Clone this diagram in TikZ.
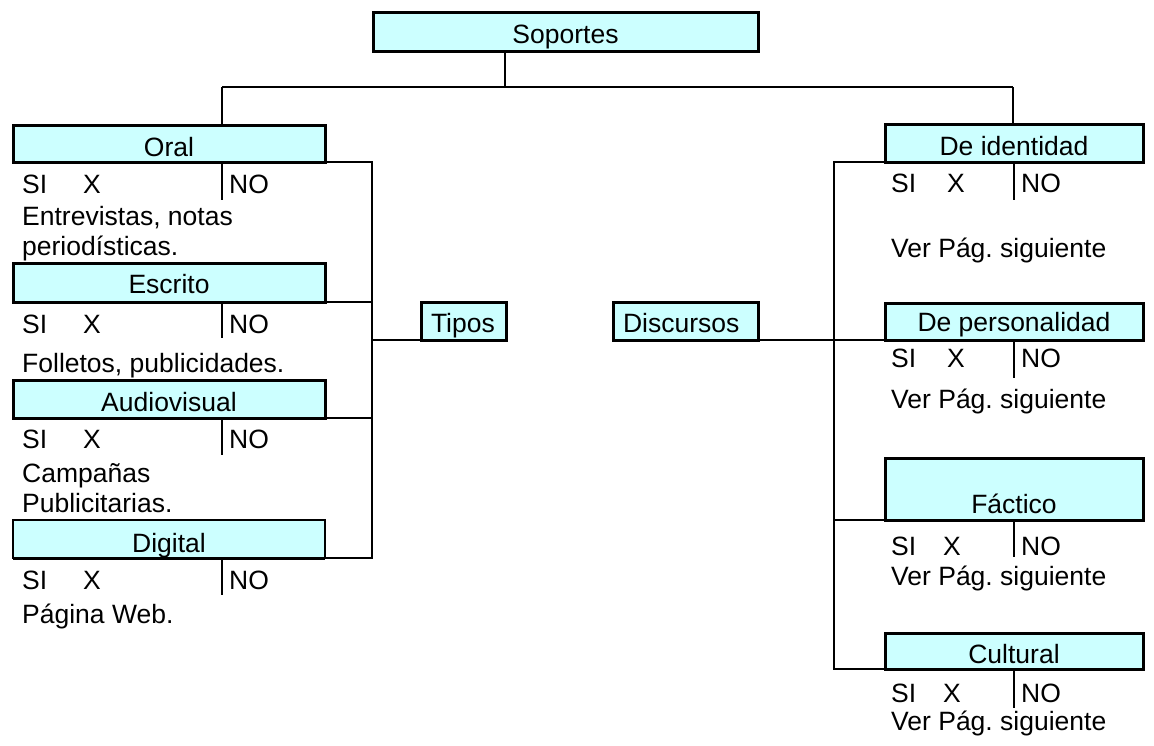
\documentclass[tikz,border=0pt]{standalone}
\usepackage{fontspec}
\setmainfont{Liberation Sans}
\frenchspacing
\definecolor{boxcyan}{HTML}{CCFFFF}
\begin{document}
\begin{tikzpicture}[x=1pt,y=-1pt,
  txtfont/.style={font=\fontsize{26.5pt}{31pt}\selectfont},
  lbl/.style={txtfont, inner sep=0pt, anchor=base west},
  bx/.style={txtfont, draw, line width=3pt, fill=boxcyan, inner sep=0pt, outer sep=0pt},
  conn/.style={line width=2.2pt},
  divider/.style={line width=1.8pt}]
\useasboundingbox (0,0) rectangle (1154,745);

% ---- boxes ----
\node[bx, minimum width=385pt, text height=31pt, text depth=8pt] (sop) at (565.5,31.5) {Soportes};

\node[bx, minimum width=312pt, text height=31pt, text depth=6pt] (oral)  at (169,143.5) {Oral};
\node[bx, minimum width=312pt, text height=30pt, text depth=9pt] (escr)  at (169,282.5) {Escrito};
\node[bx, minimum width=312pt, text height=31pt, text depth=7pt] (audio) at (169,399)   {Audiovisual};
\node[bx, line width=1.2pt, minimum width=312pt, text height=32pt, text depth=6pt] (dig) at (169,539) {Digital};
\draw[line width=3pt] (dig.south west) -- (dig.south east);

\node[bx, inner xsep=10pt, text height=30pt, text depth=8pt] (tipos) at (463.5,321) {\makebox[65pt][l]{Tipos}};
\node[bx, inner xsep=10pt, text height=30pt, text depth=8pt] (disc)  at (685.5,321) {\makebox[125pt][l]{Discursos}};

\node[bx, minimum width=258pt, text height=31pt, text depth=7pt] (ident) at (1014,143)   {De identidad};
\node[bx, minimum width=258pt, text height=28pt, text depth=9pt] (pers)  at (1014,321.5) {De personalidad};
\node[bx, minimum width=258pt, text height=55pt, text depth=7pt] (fact)  at (1014,489)   {Fáctico};
\node[bx, minimum width=258pt, text height=30pt, text depth=6pt] (cult)  at (1014,651)   {Cultural};

% ---- connectors ----
\coordinate (sj) at (505,87);
\coordinate (lt) at (222,87);
\coordinate (rt) at (1013,87);
\coordinate (lb) at (372,340);
\coordinate (rb) at (834,340);

\draw[conn] (sop.south -| sj) -- (sj);
\draw[conn] (lt) -- (rt);
\draw[conn] (lt) -- (lt |- oral.north);
\draw[conn] (rt) -- (rt |- ident.north);

\draw[conn] (oral.south east) -- (oral.south east -| lb) -- (dig.south east -| lb) -- (dig.south east);
\draw[conn] (escr.south east) -- (escr.south east -| lb);
\draw[conn] (audio.south east) -- (audio.south east -| lb);
\draw[conn] (lb) -- (tipos.south west);

\draw[conn] (ident.south west) -- (ident.south west -| rb) -- (cult.south west -| rb) -- (cult.south west);
\draw[conn] (fact.south west -| rb) -- (fact.south west);
\draw[conn] (disc.south east) -- (pers.south west);

% ---- SI / NO dividers ----
\draw[divider] ([xshift=209pt]oral.south west)  -- ++(0,38);
\draw[divider] ([xshift=209pt]escr.south west)  -- ++(0,36);
\draw[divider] ([xshift=209pt]audio.south west) -- ++(0,37);
\draw[divider] ([xshift=209pt]dig.south west)   -- ++(0,37);
\draw[divider] (ident.south) -- ++(0,38);
\draw[divider] (pers.south)  -- ++(0,38);
\draw[divider] (fact.south)  -- ++(0,37);
\draw[divider] (cult.south)  -- ++(0,39);

% ---- left column texts ----
\node[lbl] (oralsi) at (22,193) {SI};
\node[lbl] (oralx)  at (83,193) {X};
\node[lbl] (oralno) at (229,193) {NO};
\node[lbl] (oralt1) at (22,225) {Entrevistas, notas};
\node[lbl] (oralt2) at (22,255) {periodísticas.};

\node[lbl] (escrsi) at (22,333) {SI};
\node[lbl] (escrx)  at (83,333) {X};
\node[lbl] (escrno) at (229,333) {NO};
\node[lbl] (escrt1) at (22,372) {Folletos, publicidades.};

\node[lbl] (audsi) at (22,448) {SI};
\node[lbl] (audx)  at (83,448) {X};
\node[lbl] (audno) at (229,448) {NO};
\node[lbl] (audt1) at (22,482) {Campañas};
\node[lbl] (audt2) at (22,512) {Publicitarias.};

\node[lbl] (digsi) at (22,589) {SI};
\node[lbl] (digx)  at (83,589) {X};
\node[lbl] (digno) at (229,589) {NO};
\node[lbl] (digt1) at (22,623) {Página Web.};

% ---- right column texts ----
\node[lbl] (idsi) at (891,192) {SI};
\node[lbl] (idx)  at (947,192) {X};
\node[lbl] (idno) at (1021,192) {NO};
\node[lbl] (idt1) at (891,257) {Ver Pág. siguiente};

\node[lbl] (pesi) at (891,367) {SI};
\node[lbl] (pex)  at (947,367) {X};
\node[lbl] (peno) at (1021,367) {NO};
\node[lbl] (pet1) at (891,408) {Ver Pág. siguiente};

\node[lbl] (fasi) at (891,555) {SI};
\node[lbl] (fax)  at (943,555) {X};
\node[lbl] (fano) at (1021,555) {NO};
\node[lbl] (fat1) at (891,585) {Ver Pág. siguiente};

\node[lbl] (cusi) at (891,702) {SI};
\node[lbl] (cux)  at (943,702) {X};
\node[lbl] (cuno) at (1021,702) {NO};
\node[lbl] (cut1) at (891,730) {Ver Pág. siguiente};
\end{tikzpicture}
\end{document}
